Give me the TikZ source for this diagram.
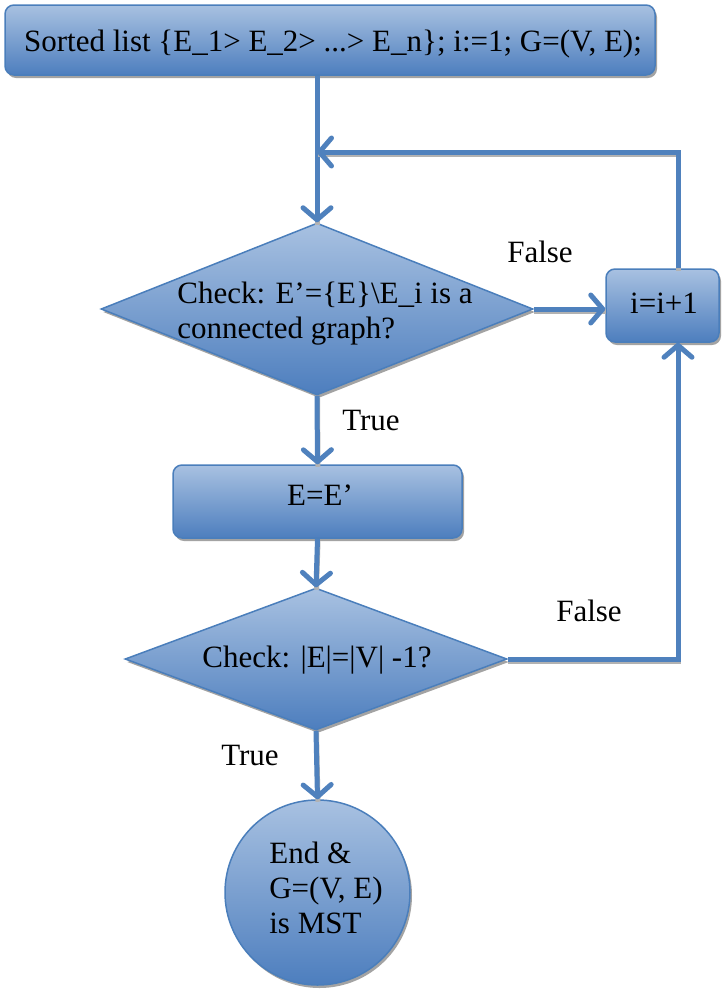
\documentclass[tikz,border=0pt]{standalone}
\usepackage{fontspec}
\setmainfont{Liberation Serif}
\usetikzlibrary{arrows.meta,shapes.geometric,shadows}

\definecolor{shadetop}{HTML}{A8C1E1}
\definecolor{shadebot}{HTML}{4D7EBE}
\definecolor{rim}{HTML}{4A7EBB}
\definecolor{wire}{HTML}{4F81BD}

\tikzset{
  panel/.style={top color=shadetop, bottom color=shadebot, draw=rim, line width=1.5pt,
    drop shadow={shadow xshift=2pt, shadow yshift=-3pt, fill=black!40, opacity=0.9}},
  roundbox/.style={panel, rectangle, rounded corners=9pt, inner sep=0pt},
  decision/.style={panel, diamond, inner sep=0pt},
  terminal/.style={panel, circle, inner sep=0pt},
  caption/.style={font=\fontsize{31}{35}\selectfont, inner sep=0pt, text=black},
  flow/.style={draw=wire, line width=5pt,
    -{Straight Barb[length=12pt,width=28pt,round]},
    preaction={draw=black!30, line width=5pt, -, transform canvas={xshift=0.5pt,yshift=-2.5pt}}},
}

\begin{document}
\begin{tikzpicture}[x=1pt,y=-1pt]
  \useasboundingbox (0,0) rectangle (721,994);

  % boxes and decisions
  \node[roundbox, minimum width=650pt, minimum height=70pt] (start) at (330,40) {};
  \node[caption] (starttext) at (333,44) {Sorted list \{E\_1> E\_2> ...> E\_n\}; i:=1; G=(V, E);};

  \node[decision, minimum width=432pt, minimum height=172pt] (chk1) at (317,309) {};
  \node[caption, align=left] (chk1text) at (325,314) {Check: E’=\{E\}\textbackslash E\_i is a\\connected graph?};

  \node[roundbox, minimum width=113pt, minimum height=73pt] (inc) at (662.5,305.5) {};
  \node[caption] (inctext) at (664,303) {i=i+1};

  \node[roundbox, minimum width=289pt, minimum height=73pt] (upd) at (317.5,501.5) {};
  \node[caption] (updtext) at (320,495) {E=E’};

  \node[decision, minimum width=382pt, minimum height=142pt] (chk2) at (316,659) {};
  \node[caption] (chk2text) at (317,660) {Check: |E|=|V| -1?};

  \node[terminal, minimum size=185pt] (done) at (317.5,892.5) {};
  \node[caption, align=left] (donetext) at (326,888) {End \&\\G=(V, E)\\is MST};

  % labels
  \node[caption] (f1) at (540,252) {False};
  \node[caption] (t1) at (371,420) {True};
  \node[caption] (f2) at (589,611) {False};
  \node[caption] (t2) at (250,755) {True};

  % connectors
  \coordinate (loop) at (678,152);
  \draw[flow] (chk1.north |- start.south) -- (chk1.north);
  \draw[flow] (chk1.east) -- (inc.west |- chk1.east);
  \draw[flow] (inc.north -| loop) -- (loop) -- (loop -| chk1.north);
  \draw[flow] (chk1.south) -- (upd.north);
  \draw[flow] (upd.south) -- (chk2.north);
  \draw[flow] (chk2.east) -- (chk2.east -| loop) -- (inc.south -| loop);
  \draw[flow] (chk2.south) -- (done.north);
\end{tikzpicture}
\end{document}
